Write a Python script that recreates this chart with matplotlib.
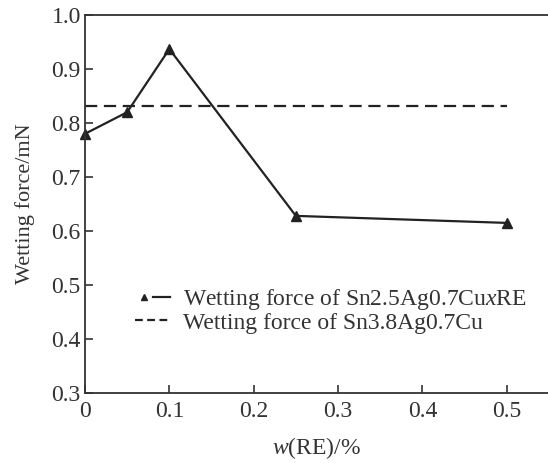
import matplotlib
matplotlib.use("Agg")
import matplotlib.pyplot as plt
from matplotlib.lines import Line2D
from matplotlib.legend_handler import HandlerTuple

re_content = [0, 0.05, 0.1, 0.25, 0.5]
wetting_force = [0.78, 0.82, 0.937, 0.628, 0.615]
ref_x = [0, 0.5]
ref_force = [0.831, 0.831]
x_ticks = [0, 0.1, 0.2, 0.3, 0.4, 0.5]
y_ticks = [0.3, 0.4, 0.5, 0.6, 0.7, 0.8, 0.9, 1.0]

plt.rcParams['font.family'] = ['Liberation Serif', 'DejaVu Serif']
plt.rcParams['mathtext.fontset'] = 'custom'
plt.rcParams['mathtext.it'] = 'Liberation Serif:italic'
plt.rcParams['mathtext.rm'] = 'Liberation Serif'

fig = plt.figure(figsize=(5.48, 4.63), dpi=100)
ax = fig.add_axes([85/548, 1-393/463, 1-85/548, (393-15)/463])

ax.plot(re_content, wetting_force, color='#222222', lw=1.6, marker='^', ms=6.5, clip_on=False)
ax.plot(ref_x, ref_force, color='#222222', lw=1.6, ls=(0, (5.5, 3)))

ax.set_xlim(0, 0.549)
ax.set_ylim(0.3, 1.0)
ax.set_xticks(x_ticks)
ax.set_xticklabels(['0', '0.1', '0.2', '0.3', '0.4', '0.5'])
ax.set_yticks(y_ticks)
ax.set_yticklabels([f'{v:.1f}' for v in y_ticks])
ax.tick_params(direction='in', length=6, width=1.2, labelsize=17, color='#333333', labelcolor='#333333')
ax.tick_params(axis='y', pad=3)
ax.tick_params(axis='x', pad=6)
ax.spines['right'].set_visible(False)
for s in ['left', 'bottom', 'top']:
    ax.spines[s].set_linewidth(1.3)
    ax.spines[s].set_color('#333333')

ax.set_ylabel('Wetting force/mN', fontsize=16, color='#333333', labelpad=12)
ax.set_xlabel(r'$\it{w}$(RE)/%', fontsize=17, color='#333333', labelpad=9)

h_marker = Line2D([], [], color='#222222', marker='^', ms=5, ls='none')
h_line = Line2D([], [], color='#222222', lw=1.6)
h_dash = Line2D([], [], color='#222222', lw=1.6, ls=(0, (3.5, 2)))
ax.legend([(h_marker, h_line), h_dash],
          [r'Wetting force of Sn2.5Ag0.7Cu$\it{x}$RE', 'Wetting force of Sn3.8Ag0.7Cu'],
          handler_map={tuple: HandlerTuple(ndivide=2, pad=0)},
          loc='upper left', bbox_to_anchor=(0.108, 0.28), frameon=False,
          borderpad=0, borderaxespad=0,
          fontsize=17, handlelength=1.5, handletextpad=0.55, labelspacing=0.0,
          labelcolor='#333333')

fig.savefig('out.png', dpi=100)
